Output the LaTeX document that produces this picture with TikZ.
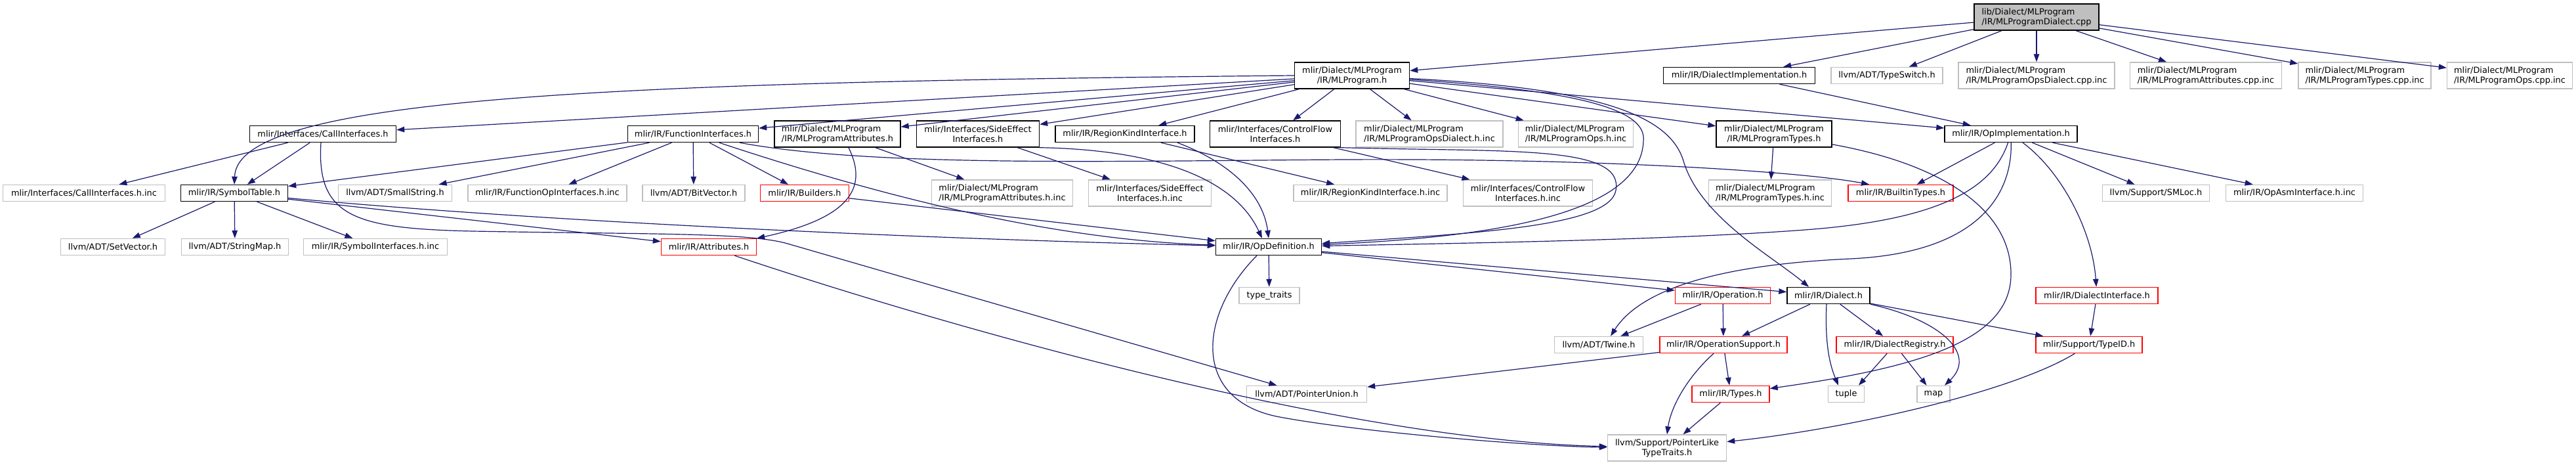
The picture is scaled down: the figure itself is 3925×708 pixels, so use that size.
\documentclass[tikz,border=0pt]{standalone}
\usepackage{fontspec}
\setmainfont{DejaVu Sans}
\usepackage{tikz}
\usetikzlibrary{arrows.meta}
\definecolor{edgeblue}{HTML}{191970}
\definecolor{nodegrey}{HTML}{BFBFBF}

\begin{document}
\begin{tikzpicture}[x=1pt, y=-1pt,
      nd/.style={rectangle, fill=white, line width=1.4pt, inner sep=0pt,
        minimum height=25, font=\fontsize{12.9}{15}\selectfont},
      doc/.style={nd, draw=black},
      inc/.style={nd, draw=nodegrey},
      trunc/.style={nd, draw=red},
      rootbox/.style={nd, draw=black, fill=nodegrey},
      two/.style={minimum height=40},
      dep/.style={draw=edgeblue, line width=1.2pt, -{Triangle[length=12pt,width=8.5pt]}}
    ]
    \path[use as bounding box, fill=white] (0,0) rectangle (3925,708);

    % Rank 0: the source file
    \node[rootbox, two, minimum width=190, align=left] (root) at (3103,26)
      {lib/Dialect/MLProgram\\/IR/MLProgramDialect.cpp};

    % Rank 1
    \node[doc, two, minimum width=175, align=center] (mlprog) at (2060,115)
      {mlir/Dialect/MLProgram\\/IR/MLProgram.h};
    \node[doc, minimum width=231] (dialimpl) at (2650,115) {mlir/IR/DialectImplementation.h};
    \node[inc, minimum width=170] (typeswitch) at (2875,115) {llvm/ADT/TypeSwitch.h};
    \node[inc, two, minimum width=238, align=left] (opsdialcpp) at (3103,115)
      {mlir/Dialect/MLProgram\\/IR/MLProgramOpsDialect.cpp.inc};
    \node[inc, two, minimum width=231, align=left] (attrcpp) at (3361,115)
      {mlir/Dialect/MLProgram\\/IR/MLProgramAttributes.cpp.inc};
    \node[inc, two, minimum width=202, align=left] (typescpp) at (3603,115)
      {mlir/Dialect/MLProgram\\/IR/MLProgramTypes.cpp.inc};
    \node[inc, two, minimum width=191, align=left] (opscpp) at (3824,115)
      {mlir/Dialect/MLProgram\\/IR/MLProgramOps.cpp.inc};

    % Rank 2
    \node[doc, minimum width=223] (callif) at (492,204) {mlir/Interfaces/CallInterfaces.h};
    \node[doc, minimum width=199] (funcif) at (1056,204) {mlir/IR/FunctionInterfaces.h};
    \node[doc, two, minimum width=192, align=left] (mlattr) at (1276,204)
      {mlir/Dialect/MLProgram\\/IR/MLProgramAttributes.h};
    \node[doc, two, minimum width=187, align=center] (sideeff) at (1490,204)
      {mlir/Interfaces/SideEffect\\Interfaces.h};
    \node[doc, minimum width=212] (regionkind) at (1714,204) {mlir/IR/RegionKindInterface.h};
    \node[doc, two, minimum width=199, align=center] (ctrlflow) at (1943,204)
      {mlir/Interfaces/ControlFlow\\Interfaces.h};
    \node[inc, two, minimum width=224, align=left] (opsdialinc) at (2178,204)
      {mlir/Dialect/MLProgram\\/IR/MLProgramOpsDialect.h.inc};
    \node[inc, two, minimum width=175, align=left] (opsinc) at (2401,204)
      {mlir/Dialect/MLProgram\\/IR/MLProgramOps.h.inc};
    \node[doc, two, minimum width=176, align=center] (mltypes) at (2703,204)
      {mlir/Dialect/MLProgram\\/IR/MLProgramTypes.h};
    \node[doc, minimum width=202] (opimpl) at (3064,204) {mlir/IR/OpImplementation.h};

    % Rank 3
    \node[inc, minimum width=247] (callifinc) at (128,294) {mlir/Interfaces/CallInterfaces.h.inc};
    \node[doc, minimum width=163] (symtab) at (357,294) {mlir/IR/SymbolTable.h};
    \node[inc, minimum width=173] (smallstr) at (602,294) {llvm/ADT/SmallString.h};
    \node[inc, minimum width=242] (funcopinc) at (834,294) {mlir/IR/FunctionOpInterfaces.h.inc};
    \node[inc, minimum width=156] (bitvec) at (1057,294) {llvm/ADT/BitVector.h};
    \node[trunc, minimum width=135] (builders) at (1226,294) {mlir/IR/Builders.h};
    \node[inc, two, minimum width=215, align=left] (mlattrinc) at (1527,294)
      {mlir/Dialect/MLProgram\\/IR/MLProgramAttributes.h.inc};
    \node[inc, two, minimum width=187, align=center] (sideeffinc) at (1752,294)
      {mlir/Interfaces/SideEffect\\Interfaces.h.inc};
    \node[inc, minimum width=234] (regionkindinc) at (2088,294) {mlir/IR/RegionKindInterface.h.inc};
    \node[inc, two, minimum width=197, align=center] (ctrlflowinc) at (2328,294)
      {mlir/Interfaces/ControlFlow\\Interfaces.h.inc};
    \node[inc, two, minimum width=187, align=left] (mltypesinc) at (2697,294)
      {mlir/Dialect/MLProgram\\/IR/MLProgramTypes.h.inc};
    \node[trunc, minimum width=160] (builtintypes) at (2896,294) {mlir/IR/BuiltinTypes.h};
    \node[inc, minimum width=163] (smloc) at (3285,294) {llvm/Support/SMLoc.h};
    \node[inc, minimum width=209] (opasminc) at (3496,294) {mlir/IR/OpAsmInterface.h.inc};

    % Rank 4
    \node[inc, minimum width=159] (setvec) at (172,376) {llvm/ADT/SetVector.h};
    \node[inc, minimum width=163] (strmap) at (358,376) {llvm/ADT/StringMap.h};
    \node[inc, minimum width=219] (syminc) at (572,376) {mlir/IR/SymbolInterfaces.h.inc};
    \node[trunc, minimum width=145] (attributes) at (1080,376) {mlir/IR/Attributes.h};
    \node[doc, minimum width=161] (opdef) at (1933,376) {mlir/IR/OpDefinition.h};

    % Rank 5
    \node[inc, minimum width=92] (typetraits) at (1934,450) {type\_traits};
    \node[trunc, minimum width=145] (operation) at (2625,450) {mlir/IR/Operation.h};
    \node[doc, minimum width=126] (dialect) at (2786,450) {mlir/IR/Dialect.h};
    \node[trunc, minimum width=186] (dialiface) at (3195,450) {mlir/IR/DialectInterface.h};

    % Rank 6
    \node[inc, minimum width=135] (twine) at (2436,525) {llvm/ADT/Twine.h};
    \node[trunc, minimum width=194] (opsupport) at (2626,525) {mlir/IR/OperationSupport.h};
    \node[trunc, minimum width=178] (dialreg) at (2887,525) {mlir/IR/DialectRegistry.h};
    \node[trunc, minimum width=162] (typeid) at (3183,525) {mlir/Support/TypeID.h};

    % Rank 7
    \node[inc, minimum width=183] (ptrunion) at (1991,600) {llvm/ADT/PointerUnion.h};
    \node[trunc, minimum width=118] (types) at (2637,600) {mlir/IR/Types.h};
    \node[inc, minimum width=55] (tuple) at (2813,600) {tuple};
    \node[inc, minimum width=50] (map) at (2946,600) {map};

    % Rank 8
    \node[inc, two, minimum width=181, align=center] (ptrlike) at (2540,682)
      {llvm/Support/PointerLike\\TypeTraits.h};

    % Edges from the source file
    \draw[dep] (root) -- (mlprog);
    \draw[dep] (root) -- (dialimpl);
    \draw[dep] (root) -- (typeswitch);
    \draw[dep] (root) -- (opsdialcpp);
    \draw[dep] (root) -- (attrcpp);
    \draw[dep] (root) -- (typescpp);
    \draw[dep] (root) -- (opscpp);

    % MLProgram.h
    \draw[dep] (mlprog.west) .. controls (900,125) and (362,150) .. (symtab.north);
    \draw[dep] (mlprog) -- (callif);
    \draw[dep] (mlprog) -- (funcif);
    \draw[dep] (mlprog) -- (mlattr);
    \draw[dep] (mlprog) -- (sideeff);
    \draw[dep] (mlprog) -- (regionkind);
    \draw[dep] (mlprog) -- (ctrlflow);
    \draw[dep] (mlprog) -- (opsdialinc);
    \draw[dep] (mlprog) -- (opsinc);
    \draw[dep] (mlprog) -- (mltypes);
    \draw[dep] (mlprog) -- (opimpl);
    \draw[dep] (mlprog) .. controls (2400,138) and (2510,165) .. (2504,215)
      .. controls (2500,320) and (2300,360) .. (opdef);
    \draw[dep] (mlprog) .. controls (2450,135) and (2545,180) .. (2565,245)
      .. controls (2590,330) and (2700,390) .. ([xshift=-30pt]dialect.north);

    % interfaces
    \draw[dep] (callif) -- (callifinc);
    \draw[dep] (callif) -- (symtab);
    \draw[dep] ([xshift=-3pt]callif.south) .. controls (482,330) and (540,348) .. (720,352)
      .. controls (1000,357) and (1140,354) .. (1200,371) -- (ptrunion);
    \draw[dep] (funcif) -- (symtab);
    \draw[dep] (funcif) -- (smallstr);
    \draw[dep] (funcif) -- (funcopinc);
    \draw[dep] (funcif) -- (bitvec);
    \draw[dep] (funcif) -- (builders);
    \draw[dep] (funcif) .. controls (1330,255) and (1700,245) .. (2050,243)
      .. controls (2450,241) and (2750,262) .. ([xshift=-48pt]builtintypes.north);
    \draw[dep] (funcif) .. controls (1400,318) and (1640,366) .. (opdef);
    \draw[dep] (mlattr) -- (mlattrinc);
    \draw[dep] ([xshift=17pt]mlattr.south) .. controls (1320,280) and (1305,330) .. (attributes.north east);
    \draw[dep] (sideeff) -- (sideeffinc);
    \draw[dep] (sideeff.south east) .. controls (1760,228) and (1880,270) .. ([xshift=-10pt]opdef.north);
    \draw[dep] (regionkind) -- (regionkindinc);
    \draw[dep] ([xshift=80pt]regionkind.south) .. controls (1880,250) and (1925,300) .. (opdef.north);
    \draw[dep] (ctrlflow) -- (ctrlflowinc);
    \draw[dep] (ctrlflow.south east) .. controls (2300,232) and (2475,220) .. (2462,290)
      .. controls (2452,345) and (2250,355) .. (opdef);
    \draw[dep] (mltypes) -- (mltypesinc);
    \draw[dep] (mltypes) .. controls (2960,250) and (3066,320) .. (3064,420)
      .. controls (3062,520) and (2920,560) .. (types);

    % OpImplementation.h
    \draw[dep] (dialimpl) -- (opimpl);
    \draw[dep] (opimpl) -- (builtintypes);
    \draw[dep] (opimpl) -- (smloc);
    \draw[dep] (opimpl) -- (opasminc);
    \draw[dep] (opimpl) .. controls (3140,260) and (3188,350) .. (dialiface);
    \draw[dep] (opimpl) .. controls (3035,290) and (2950,335) .. (2750,350)
      .. controls (2550,365) and (2250,370) .. (opdef);
    \draw[dep] (opimpl) .. controls (3066,300) and (3010,385) .. (2820,394)
      .. controls (2620,403) and (2500,440) .. ([xshift=18pt]twine.north);

    % SymbolTable.h
    \draw[dep] (symtab) -- (setvec);
    \draw[dep] (symtab) -- (strmap);
    \draw[dep] (symtab) -- (syminc);
    \draw[dep] (symtab) -- (attributes);
    \draw[dep] (symtab) .. controls (800,335) and (1350,362) .. (opdef);
    \draw[dep] (builders) -- (opdef);

    % OpDefinition.h and below
    \draw[dep] (attributes) .. controls (1450,500) and (2050,670) .. (ptrlike);
    \draw[dep] (opdef) -- (typetraits);
    \draw[dep] (opdef) -- (operation);
    \draw[dep] (opdef) -- (dialect);
    \draw[dep] ([xshift=-18pt]opdef.south) .. controls (1825,480) and (1815,610) .. (1950,635)
      .. controls (2085,660) and (2350,680) .. (ptrlike);
    \draw[dep] (operation) -- (twine);
    \draw[dep] (operation) -- (opsupport);
    \draw[dep] (dialect) -- (opsupport);
    \draw[dep] ([xshift=-3pt]dialect.south) .. controls (2780,530) and (2790,560) .. ([xshift=-12pt]tuple.north);
    \draw[dep] (dialect) -- (dialreg);
    \draw[dep] (dialect.south east) .. controls (2960,488) and (3012,540) .. ([xshift=17pt]map.north);
    \draw[dep] (dialect) -- (typeid);
    \draw[dep] (dialreg) -- ([xshift=19pt]tuple.north);
    \draw[dep] (dialreg) -- (map);
    \draw[dep] (dialiface) -- (typeid);
    \draw[dep] (opsupport) -- (ptrunion);
    \draw[dep] (opsupport) -- (types);
    \draw[dep] ([xshift=-15pt]opsupport.south) .. controls (2565,580) and (2545,625) .. (ptrlike.north);
    \draw[dep] (types) -- (ptrlike);
    \draw[dep] (typeid) .. controls (3060,600) and (2800,655) .. (ptrlike);
  \end{tikzpicture}
\end{document}
